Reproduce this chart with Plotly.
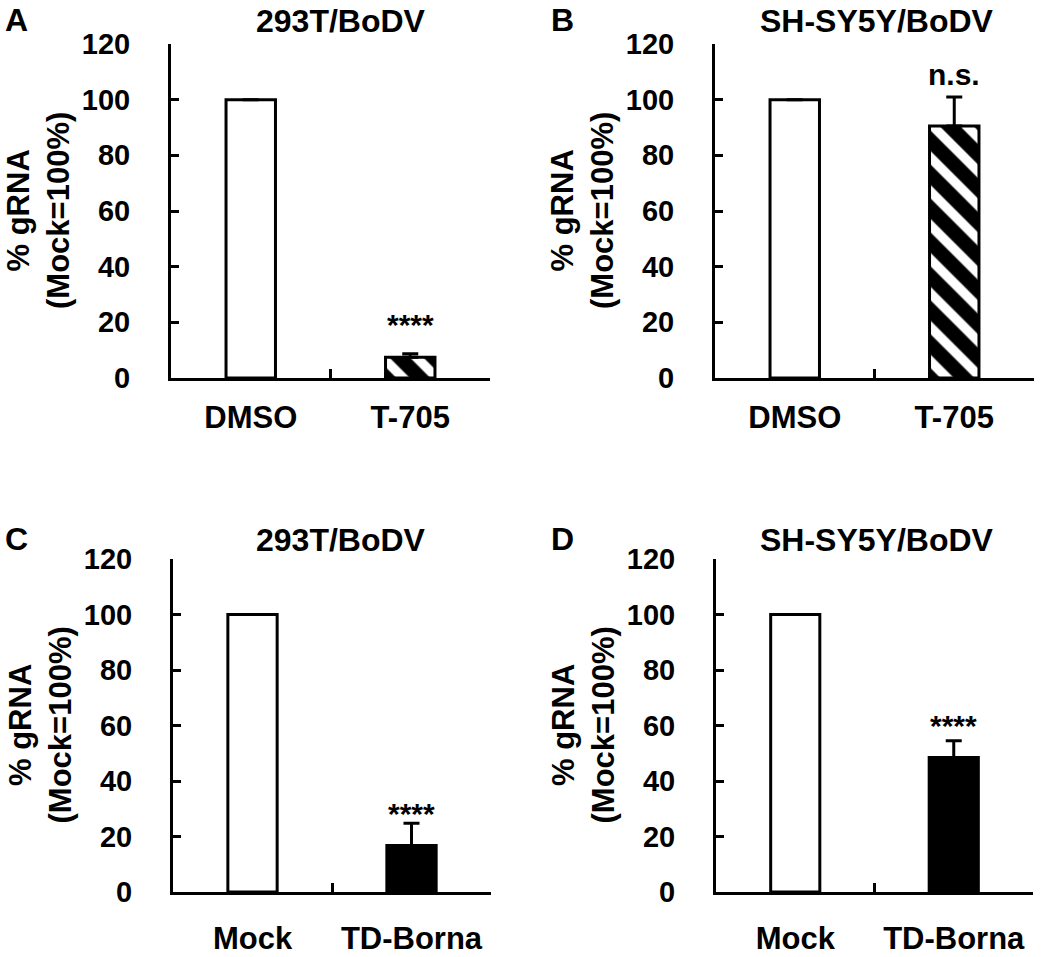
import plotly.graph_objects as go

# data
panel_letters = ["A", "B", "C", "D"]
panel_titles = ["293T/BoDV", "SH-SY5Y/BoDV", "293T/BoDV", "SH-SY5Y/BoDV"]
cats_top = ["DMSO", "T-705"]
cats_bottom = ["Mock", "TD-Borna"]
vals_a = [100, 7.5]
err_a = [0, 1.2]
vals_b = [100, 90.5]
err_b = [0, 10.5]
vals_c = [100, 16.8]
err_c = [0, 8.0]
vals_d = [100, 48.5]
err_d = [0, 6.0]
sig_labels = ["****", "n.s.", "****", "****"]
y_ticks = [0, 20, 40, 60, 80, 100, 120]

W, H = 1047, 957
FONT = "Liberation Sans, Arial, sans-serif"


def px_x(v):
    return v / W


def px_y(v):
    return 1 - v / H


# panel boxes in page pixels: (x0, x1, ytop, ybottom)
boxes = [(171, 490, 44, 378), (715, 1034, 44, 378),
         (173, 491, 559, 892), (716, 1033, 559, 892)]

panels = [
    (cats_top, vals_a, err_a, "hatch"),
    (cats_top, vals_b, err_b, "hatch"),
    (cats_bottom, vals_c, err_c, "solid"),
    (cats_bottom, vals_d, err_d, "solid"),
]
title_cx = [341, 877, 341, 877]
title_cy = [21, 21, 540, 540]
sig_shift = [29, 22, 10, 15]
xlab_pad = [10, 10, 17, 17]

fig = go.Figure()
layout = dict(width=W, height=H, margin=dict(l=0, r=0, t=0, b=0),
              plot_bgcolor="white", paper_bgcolor="white", showlegend=False,
              font=dict(family=FONT, color="black"))
annotations = []

for i, (cats, vals, errs, style) in enumerate(panels):
    n = "" if i == 0 else str(i + 1)
    x0, x1, yt, yb = boxes[i]
    marker = dict(color=["white", "black"], line=dict(color="black", width=3))
    if style == "hatch":
        marker["pattern"] = dict(shape=["", "\\"], fgcolor="white", fgopacity=1,
                                 size=24, solidity=0.4, fillmode="overlay")
    fig.add_trace(go.Bar(
        x=cats, y=vals, xaxis="x" + n, yaxis="y" + n, width=0.31,
        marker=marker,
        error_y=dict(type="data", array=errs, arrayminus=[0, 0], symmetric=False,
                     color="black", thickness=3, width=8),
    ))
    layout["xaxis" + n] = dict(
        domain=[px_x(x0), px_x(x1)], anchor="y" + n, type="category", automargin=False,
        range=[-0.5, 1.5], showline=True, linecolor="black", linewidth=3,
        ticks="inside", tickson="boundaries", ticklen=9, tickwidth=3,
        tickcolor="black", ticklabelstandoff=xlab_pad[i], showgrid=False,
        tickfont=dict(size=31, weight="bold", family=FONT), zeroline=False,
    )
    layout["yaxis" + n] = dict(
        domain=[px_y(yb), px_y(yt)], anchor="x" + n, range=[0, 120],
        automargin=False,
        tickvals=y_ticks, showline=True, linecolor="black", linewidth=3,
        ticks="inside", ticklen=8, tickwidth=3, tickcolor="black",
        ticklabelstandoff=32, showgrid=False, zeroline=False,
        tickfont=dict(size=29, weight="bold", family=FONT),
    )
    # panel title
    annotations.append(dict(text=panel_titles[i], x=px_x(title_cx[i]), y=px_y(title_cy[i]),
                            xref="paper", yref="paper", showarrow=False,
                            xanchor="center", yanchor="middle",
                            font=dict(size=32, weight="bold", family=FONT)))
    # panel letter
    lx = 16 if i % 2 == 0 else 562
    annotations.append(dict(text=panel_letters[i], x=px_x(lx), y=px_y(title_cy[i] - 1),
                            xref="paper", yref="paper", showarrow=False,
                            xanchor="center", yanchor="middle",
                            font=dict(size=32, weight="bold", family=FONT)))
    # y axis title
    annotations.append(dict(text="% gRNA<br>(Mock=100%)", x=px_x(x0 - 133),
                            y=px_y((yt + yb) / 2), xref="paper", yref="paper",
                            showarrow=False, textangle=-90, xanchor="center",
                            yanchor="middle",
                            font=dict(size=31, weight="bold", family=FONT)))
    # significance label
    annotations.append(dict(text=sig_labels[i], x=cats[1], y=vals[1] + errs[1],
                            xref="x" + n, yref="y" + n, showarrow=False,
                            yanchor="middle", yshift=sig_shift[i],
                            font=dict(size=30, weight="bold", family=FONT)))

layout["annotations"] = annotations
fig.update_layout(**layout)
# drop the page's default body margin so the figure fills the window
fig.write_html("out.html", config={"displayModeBar": False},
               post_script="document.body.style.margin='0';"
                           "document.body.style.overflow='hidden';")
